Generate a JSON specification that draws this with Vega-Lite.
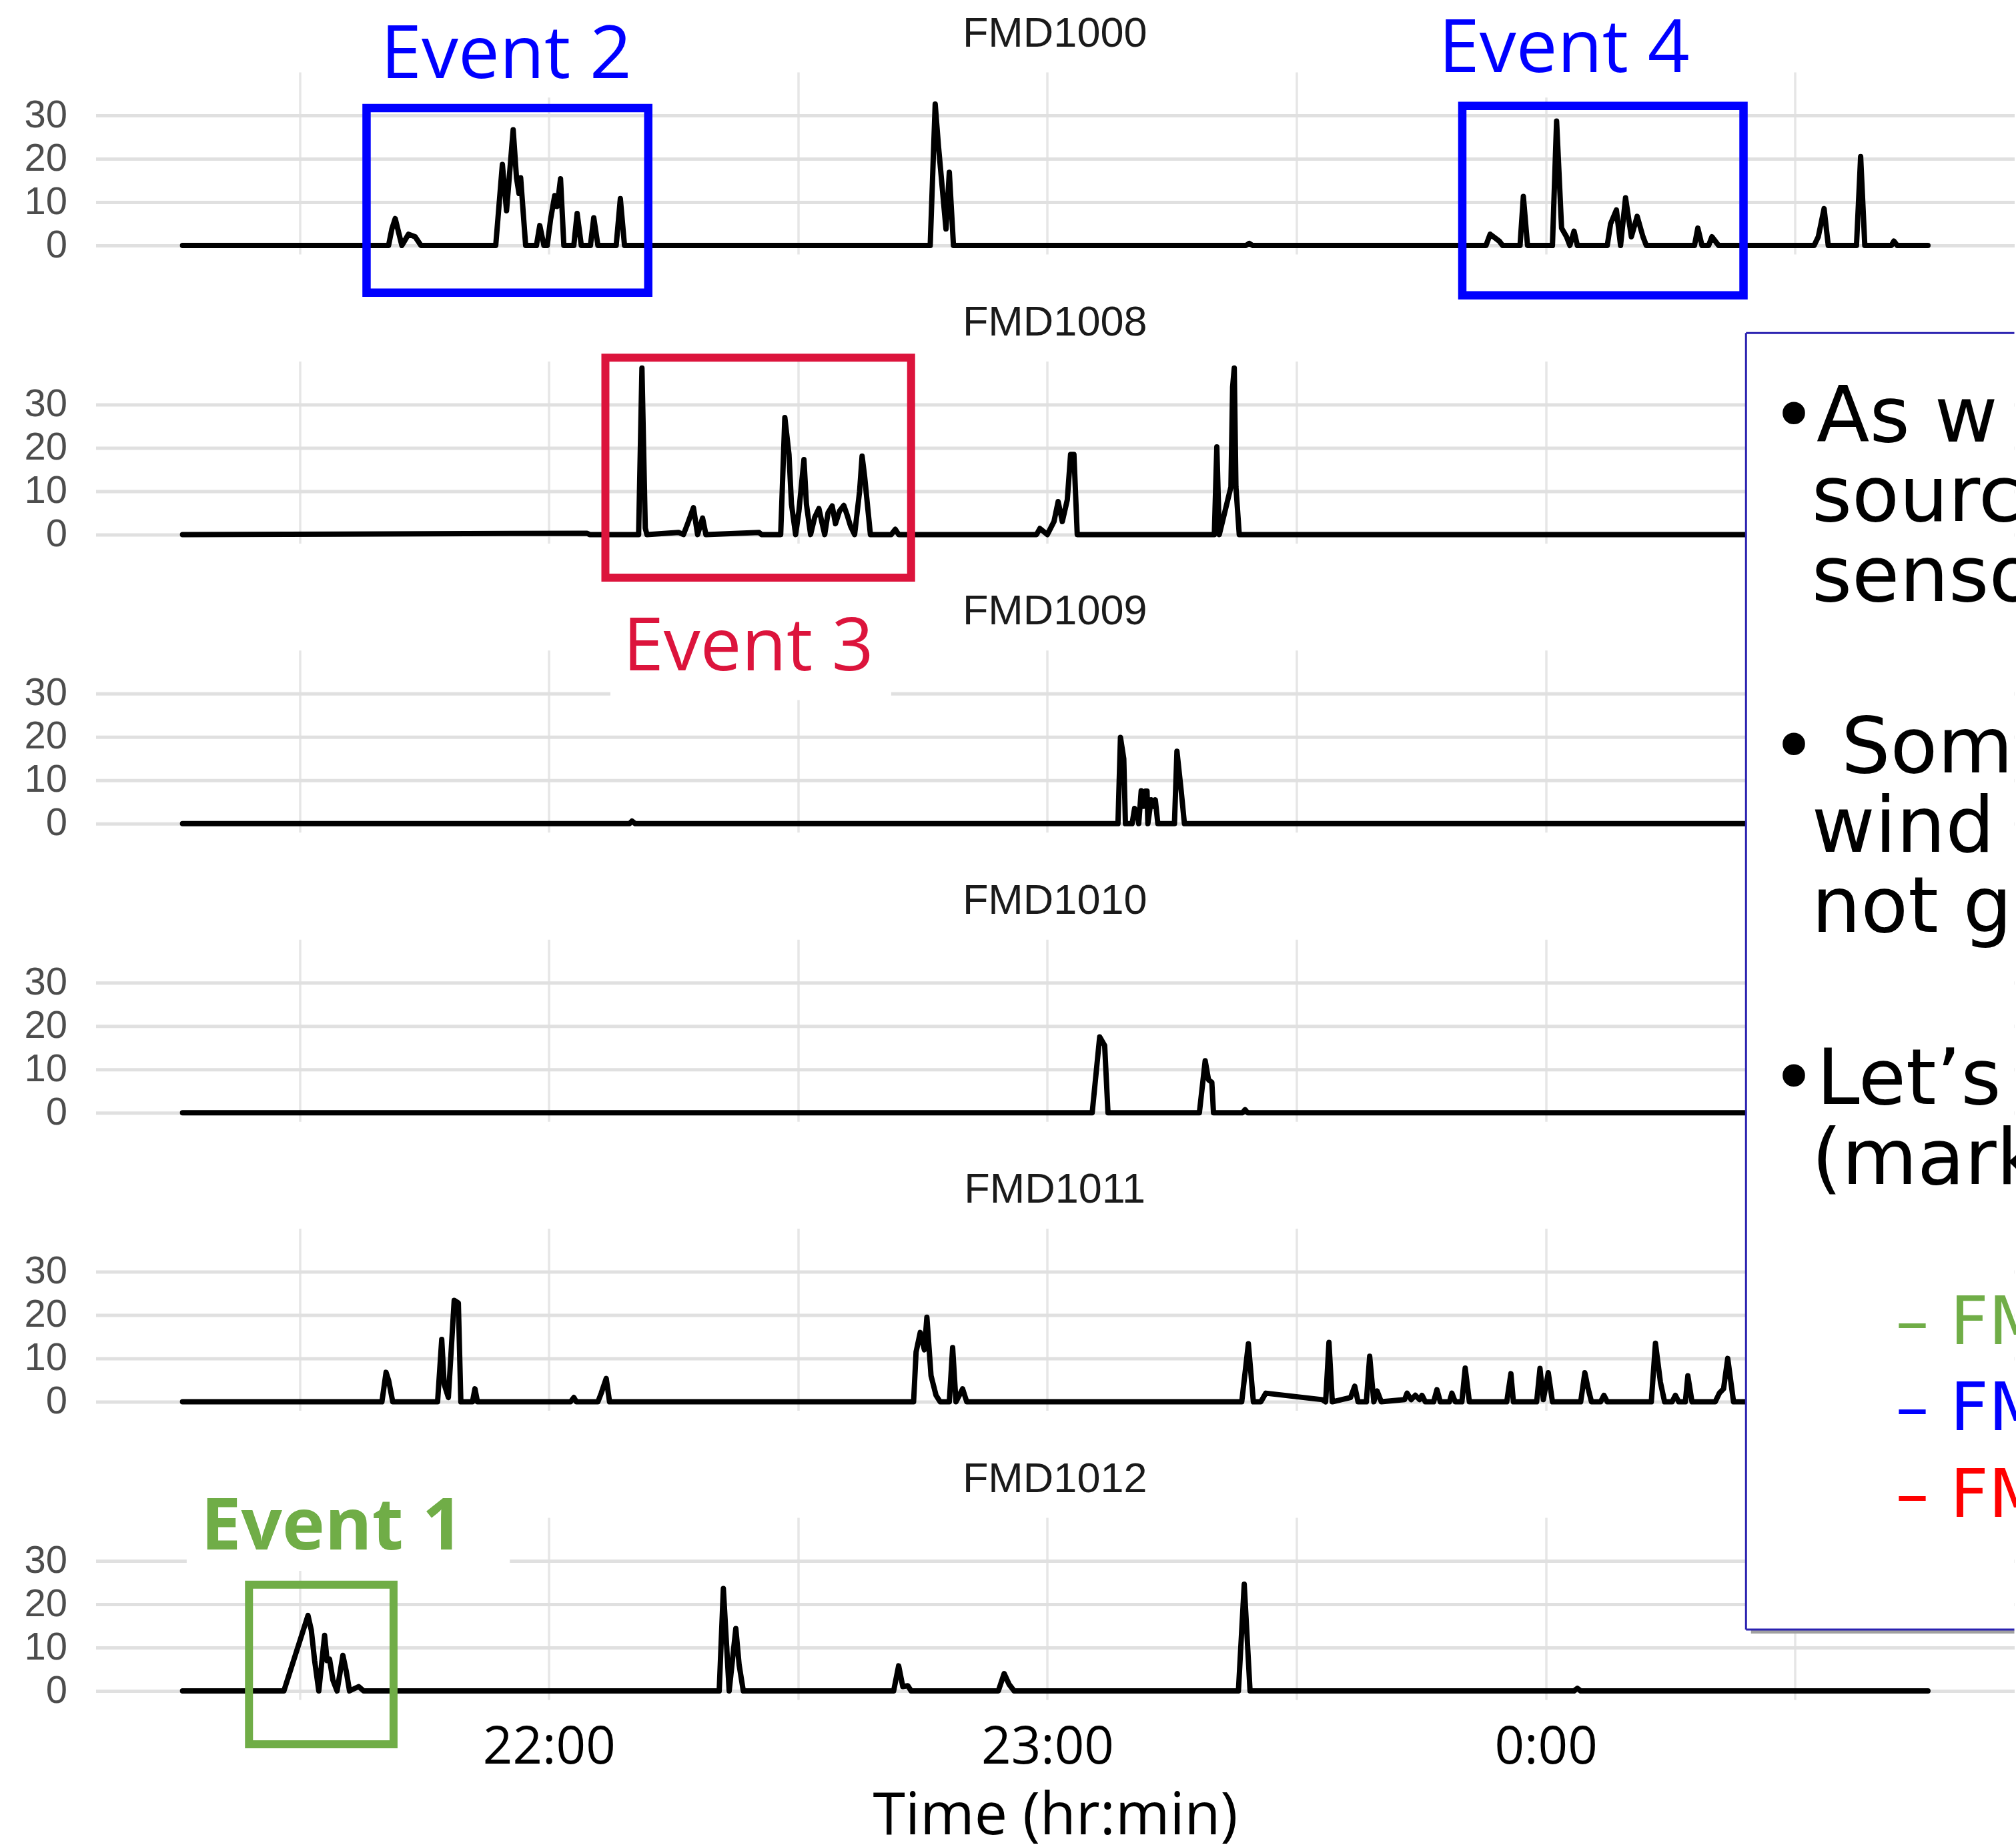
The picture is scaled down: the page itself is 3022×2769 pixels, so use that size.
{
  "$schema": "https://vega.github.io/schema/vega-lite/v6.json",
  "background": "white",
  "padding": {"left": 35.5, "top": 19, "right": 0, "bottom": 0},
  "bounds": "flush",
  "spacing": 160.4,
  "config": {
    "view": {"stroke": null},
    "axis": {"domain": false, "ticks": false, "grid": true, "gridColor": "#e0e0e0", "gridWidth": 5, "labelFont": "Liberation Sans", "labelFontSize": 58, "labelColor": "#4d4d4d", "labelPadding": 43},
    "axisX": {"gridColor": "#e6e6e6", "gridWidth": 3.5}
  },
  "datasets": {
    "series": [
      {"sensor":"FMD1000","t":15.9,"v":0},{"sensor":"FMD1000","t":40.7,"v":0},{"sensor":"FMD1000","t":41.1,"v":3.8},{"sensor":"FMD1000","t":41.5,"v":6.2},{"sensor":"FMD1000","t":42.3,"v":0},{"sensor":"FMD1000","t":43.1,"v":2.6},{"sensor":"FMD1000","t":43.9,"v":2},{"sensor":"FMD1000","t":44.6,"v":0},{"sensor":"FMD1000","t":53.6,"v":0},{"sensor":"FMD1000","t":54.4,"v":18.7},{"sensor":"FMD1000","t":54.9,"v":8},{"sensor":"FMD1000","t":55.7,"v":26.7},{"sensor":"FMD1000","t":56.1,"v":15.6},{"sensor":"FMD1000","t":56.4,"v":12},{"sensor":"FMD1000","t":56.6,"v":15.6},{"sensor":"FMD1000","t":57.2,"v":0},{"sensor":"FMD1000","t":58.5,"v":0},{"sensor":"FMD1000","t":58.9,"v":4.6},{"sensor":"FMD1000","t":59.4,"v":0},{"sensor":"FMD1000","t":59.8,"v":0},{"sensor":"FMD1000","t":60.2,"v":6},{"sensor":"FMD1000","t":60.7,"v":11.5},{"sensor":"FMD1000","t":61.0,"v":9},{"sensor":"FMD1000","t":61.4,"v":15.4},{"sensor":"FMD1000","t":61.8,"v":0},{"sensor":"FMD1000","t":63.0,"v":0},{"sensor":"FMD1000","t":63.4,"v":7.4},{"sensor":"FMD1000","t":63.9,"v":0},{"sensor":"FMD1000","t":65.0,"v":0},{"sensor":"FMD1000","t":65.4,"v":6.4},{"sensor":"FMD1000","t":65.9,"v":0},{"sensor":"FMD1000","t":68.1,"v":0},{"sensor":"FMD1000","t":68.6,"v":10.8},{"sensor":"FMD1000","t":69.1,"v":0},{"sensor":"FMD1000","t":105.9,"v":0},{"sensor":"FMD1000","t":106.5,"v":32.6},{"sensor":"FMD1000","t":106.9,"v":22.8},{"sensor":"FMD1000","t":107.8,"v":3.8},{"sensor":"FMD1000","t":108.2,"v":16.9},{"sensor":"FMD1000","t":108.7,"v":0},{"sensor":"FMD1000","t":143.9,"v":0},{"sensor":"FMD1000","t":144.3,"v":0.5},{"sensor":"FMD1000","t":144.7,"v":0},{"sensor":"FMD1000","t":172.8,"v":0},{"sensor":"FMD1000","t":173.3,"v":2.6},{"sensor":"FMD1000","t":174.4,"v":1},{"sensor":"FMD1000","t":174.8,"v":0},{"sensor":"FMD1000","t":176.9,"v":0},{"sensor":"FMD1000","t":177.3,"v":11.3},{"sensor":"FMD1000","t":177.8,"v":0},{"sensor":"FMD1000","t":180.8,"v":0},{"sensor":"FMD1000","t":181.3,"v":28.7},{"sensor":"FMD1000","t":181.9,"v":4},{"sensor":"FMD1000","t":182.5,"v":2},{"sensor":"FMD1000","t":182.9,"v":0},{"sensor":"FMD1000","t":183.4,"v":3.3},{"sensor":"FMD1000","t":183.8,"v":0},{"sensor":"FMD1000","t":187.4,"v":0},{"sensor":"FMD1000","t":187.8,"v":5},{"sensor":"FMD1000","t":188.5,"v":8.2},{"sensor":"FMD1000","t":189.0,"v":0},{"sensor":"FMD1000","t":189.6,"v":11},{"sensor":"FMD1000","t":190.3,"v":2},{"sensor":"FMD1000","t":191.0,"v":6.7},{"sensor":"FMD1000","t":191.7,"v":2},{"sensor":"FMD1000","t":192.1,"v":0},{"sensor":"FMD1000","t":197.9,"v":0},{"sensor":"FMD1000","t":198.3,"v":4},{"sensor":"FMD1000","t":198.8,"v":0},{"sensor":"FMD1000","t":199.6,"v":0},{"sensor":"FMD1000","t":200.0,"v":2},{"sensor":"FMD1000","t":200.8,"v":0},{"sensor":"FMD1000","t":212.3,"v":0},{"sensor":"FMD1000","t":212.8,"v":2},{"sensor":"FMD1000","t":213.5,"v":8.5},{"sensor":"FMD1000","t":214.0,"v":0},{"sensor":"FMD1000","t":217.4,"v":0},{"sensor":"FMD1000","t":217.9,"v":20.5},{"sensor":"FMD1000","t":218.4,"v":0},{"sensor":"FMD1000","t":221.6,"v":0},{"sensor":"FMD1000","t":221.9,"v":1},{"sensor":"FMD1000","t":222.3,"v":0},{"sensor":"FMD1000","t":226.0,"v":0},

      {"sensor":"FMD1008","t":15.9,"v":0},{"sensor":"FMD1008","t":64.6,"v":0.3},{"sensor":"FMD1008","t":64.9,"v":0},{"sensor":"FMD1008","t":70.8,"v":0},{"sensor":"FMD1008","t":71.2,"v":38.4},{"sensor":"FMD1008","t":71.6,"v":1.5},{"sensor":"FMD1008","t":71.8,"v":0},{"sensor":"FMD1008","t":75.6,"v":0.5},{"sensor":"FMD1008","t":76.2,"v":0},{"sensor":"FMD1008","t":76.7,"v":2.5},{"sensor":"FMD1008","t":77.4,"v":6.2},{"sensor":"FMD1008","t":77.9,"v":0},{"sensor":"FMD1008","t":78.5,"v":3.8},{"sensor":"FMD1008","t":78.9,"v":0},{"sensor":"FMD1008","t":85.3,"v":0.5},{"sensor":"FMD1008","t":85.6,"v":0},{"sensor":"FMD1008","t":87.9,"v":0},{"sensor":"FMD1008","t":88.4,"v":27},{"sensor":"FMD1008","t":88.9,"v":18.5},{"sensor":"FMD1008","t":89.2,"v":7},{"sensor":"FMD1008","t":89.7,"v":0},{"sensor":"FMD1008","t":90.1,"v":5.5},{"sensor":"FMD1008","t":90.7,"v":17.3},{"sensor":"FMD1008","t":91.0,"v":7},{"sensor":"FMD1008","t":91.5,"v":0},{"sensor":"FMD1008","t":92.0,"v":4},{"sensor":"FMD1008","t":92.5,"v":6},{"sensor":"FMD1008","t":92.9,"v":2.5},{"sensor":"FMD1008","t":93.2,"v":0},{"sensor":"FMD1008","t":93.6,"v":5},{"sensor":"FMD1008","t":94.1,"v":6.6},{"sensor":"FMD1008","t":94.5,"v":2.5},{"sensor":"FMD1008","t":95.0,"v":5.5},{"sensor":"FMD1008","t":95.5,"v":6.7},{"sensor":"FMD1008","t":95.9,"v":4.5},{"sensor":"FMD1008","t":96.3,"v":2},{"sensor":"FMD1008","t":96.8,"v":0},{"sensor":"FMD1008","t":97.4,"v":10},{"sensor":"FMD1008","t":97.7,"v":18.1},{"sensor":"FMD1008","t":98.0,"v":13.5},{"sensor":"FMD1008","t":98.7,"v":0},{"sensor":"FMD1008","t":101.2,"v":0},{"sensor":"FMD1008","t":101.7,"v":1.2},{"sensor":"FMD1008","t":102.1,"v":0},{"sensor":"FMD1008","t":118.7,"v":0},{"sensor":"FMD1008","t":119.1,"v":1.4},{"sensor":"FMD1008","t":120.0,"v":0},{"sensor":"FMD1008","t":120.8,"v":3},{"sensor":"FMD1008","t":121.3,"v":7.6},{"sensor":"FMD1008","t":121.8,"v":3},{"sensor":"FMD1008","t":122.4,"v":8},{"sensor":"FMD1008","t":122.8,"v":18.5},{"sensor":"FMD1008","t":123.2,"v":18.5},{"sensor":"FMD1008","t":123.6,"v":0},{"sensor":"FMD1008","t":140.1,"v":0},{"sensor":"FMD1008","t":140.4,"v":20.2},{"sensor":"FMD1008","t":140.7,"v":0},{"sensor":"FMD1008","t":142.1,"v":11},{"sensor":"FMD1008","t":142.3,"v":34},{"sensor":"FMD1008","t":142.5,"v":38.4},{"sensor":"FMD1008","t":142.7,"v":11},{"sensor":"FMD1008","t":143.1,"v":0},{"sensor":"FMD1008","t":226.0,"v":0},

      {"sensor":"FMD1009","t":15.9,"v":0},{"sensor":"FMD1009","t":69.7,"v":0},{"sensor":"FMD1009","t":70.0,"v":0.6},{"sensor":"FMD1009","t":70.4,"v":0},{"sensor":"FMD1009","t":128.5,"v":0},{"sensor":"FMD1009","t":128.8,"v":19.9},{"sensor":"FMD1009","t":129.2,"v":15},{"sensor":"FMD1009","t":129.4,"v":0},{"sensor":"FMD1009","t":130.2,"v":0},{"sensor":"FMD1009","t":130.5,"v":3.5},{"sensor":"FMD1009","t":130.8,"v":2.5},{"sensor":"FMD1009","t":131.0,"v":0},{"sensor":"FMD1009","t":131.3,"v":7.6},{"sensor":"FMD1009","t":131.6,"v":4},{"sensor":"FMD1009","t":131.8,"v":7.5},{"sensor":"FMD1009","t":132.0,"v":7.5},{"sensor":"FMD1009","t":132.1,"v":0},{"sensor":"FMD1009","t":132.5,"v":5.5},{"sensor":"FMD1009","t":132.8,"v":4},{"sensor":"FMD1009","t":133.0,"v":5.5},{"sensor":"FMD1009","t":133.3,"v":0},{"sensor":"FMD1009","t":135.3,"v":0},{"sensor":"FMD1009","t":135.6,"v":16.7},{"sensor":"FMD1009","t":136.1,"v":7.8},{"sensor":"FMD1009","t":136.5,"v":0},{"sensor":"FMD1009","t":226.0,"v":0},

      {"sensor":"FMD1010","t":15.9,"v":0},{"sensor":"FMD1010","t":125.4,"v":0},{"sensor":"FMD1010","t":126.3,"v":17.5},{"sensor":"FMD1010","t":126.9,"v":15.5},{"sensor":"FMD1010","t":127.3,"v":0},{"sensor":"FMD1010","t":138.3,"v":0},{"sensor":"FMD1010","t":139.0,"v":12},{"sensor":"FMD1010","t":139.4,"v":7.6},{"sensor":"FMD1010","t":139.8,"v":7},{"sensor":"FMD1010","t":140.0,"v":0},{"sensor":"FMD1010","t":143.5,"v":0},{"sensor":"FMD1010","t":143.8,"v":0.7},{"sensor":"FMD1010","t":144.1,"v":0},{"sensor":"FMD1010","t":226.0,"v":0},

      {"sensor":"FMD1011","t":15.9,"v":0},{"sensor":"FMD1011","t":39.9,"v":0},{"sensor":"FMD1011","t":40.4,"v":6.8},{"sensor":"FMD1011","t":40.7,"v":5},{"sensor":"FMD1011","t":41.2,"v":0},{"sensor":"FMD1011","t":46.6,"v":0},{"sensor":"FMD1011","t":47.1,"v":14.4},{"sensor":"FMD1011","t":47.4,"v":4},{"sensor":"FMD1011","t":47.9,"v":1},{"sensor":"FMD1011","t":48.6,"v":23.4},{"sensor":"FMD1011","t":49.1,"v":22.8},{"sensor":"FMD1011","t":49.4,"v":0},{"sensor":"FMD1011","t":50.8,"v":0},{"sensor":"FMD1011","t":51.1,"v":3},{"sensor":"FMD1011","t":51.4,"v":0},{"sensor":"FMD1011","t":62.6,"v":0},{"sensor":"FMD1011","t":63.0,"v":1},{"sensor":"FMD1011","t":63.3,"v":0},{"sensor":"FMD1011","t":65.9,"v":0},{"sensor":"FMD1011","t":66.3,"v":2},{"sensor":"FMD1011","t":66.9,"v":5.4},{"sensor":"FMD1011","t":67.3,"v":0},{"sensor":"FMD1011","t":103.9,"v":0},{"sensor":"FMD1011","t":104.2,"v":11.5},{"sensor":"FMD1011","t":104.7,"v":16},{"sensor":"FMD1011","t":105.2,"v":12},{"sensor":"FMD1011","t":105.5,"v":19.5},{"sensor":"FMD1011","t":106.0,"v":6},{"sensor":"FMD1011","t":106.6,"v":1.5},{"sensor":"FMD1011","t":107.1,"v":0},{"sensor":"FMD1011","t":108.2,"v":0},{"sensor":"FMD1011","t":108.6,"v":12.5},{"sensor":"FMD1011","t":109.0,"v":0},{"sensor":"FMD1011","t":109.8,"v":3},{"sensor":"FMD1011","t":110.3,"v":0},{"sensor":"FMD1011","t":143.4,"v":0},{"sensor":"FMD1011","t":144.2,"v":13.4},{"sensor":"FMD1011","t":144.8,"v":0},{"sensor":"FMD1011","t":145.7,"v":0},{"sensor":"FMD1011","t":146.3,"v":2},{"sensor":"FMD1011","t":153.1,"v":0.5},{"sensor":"FMD1011","t":153.5,"v":0},{"sensor":"FMD1011","t":153.9,"v":13.7},{"sensor":"FMD1011","t":154.3,"v":0},{"sensor":"FMD1011","t":156.5,"v":1},{"sensor":"FMD1011","t":157.0,"v":3.6},{"sensor":"FMD1011","t":157.4,"v":0},{"sensor":"FMD1011","t":158.4,"v":0},{"sensor":"FMD1011","t":158.8,"v":10.5},{"sensor":"FMD1011","t":159.3,"v":0},{"sensor":"FMD1011","t":159.7,"v":2.5},{"sensor":"FMD1011","t":160.2,"v":0},{"sensor":"FMD1011","t":163.0,"v":0.5},{"sensor":"FMD1011","t":163.3,"v":2},{"sensor":"FMD1011","t":163.8,"v":0.5},{"sensor":"FMD1011","t":164.3,"v":1.5},{"sensor":"FMD1011","t":164.8,"v":0.5},{"sensor":"FMD1011","t":165.1,"v":1.5},{"sensor":"FMD1011","t":165.5,"v":0},{"sensor":"FMD1011","t":166.5,"v":0},{"sensor":"FMD1011","t":166.9,"v":2.8},{"sensor":"FMD1011","t":167.3,"v":0},{"sensor":"FMD1011","t":168.4,"v":0},{"sensor":"FMD1011","t":168.7,"v":2},{"sensor":"FMD1011","t":169.1,"v":0},{"sensor":"FMD1011","t":169.9,"v":0},{"sensor":"FMD1011","t":170.3,"v":7.8},{"sensor":"FMD1011","t":170.8,"v":0},{"sensor":"FMD1011","t":175.3,"v":0},{"sensor":"FMD1011","t":175.8,"v":6.5},{"sensor":"FMD1011","t":176.1,"v":0},{"sensor":"FMD1011","t":178.9,"v":0},{"sensor":"FMD1011","t":179.3,"v":7.7},{"sensor":"FMD1011","t":179.7,"v":0.5},{"sensor":"FMD1011","t":180.3,"v":6.7},{"sensor":"FMD1011","t":180.8,"v":0},{"sensor":"FMD1011","t":184.2,"v":0},{"sensor":"FMD1011","t":184.7,"v":6.7},{"sensor":"FMD1011","t":185.1,"v":3},{"sensor":"FMD1011","t":185.5,"v":0},{"sensor":"FMD1011","t":186.6,"v":0},{"sensor":"FMD1011","t":187.0,"v":1.5},{"sensor":"FMD1011","t":187.4,"v":0},{"sensor":"FMD1011","t":192.7,"v":0},{"sensor":"FMD1011","t":193.2,"v":13.5},{"sensor":"FMD1011","t":193.8,"v":4.5},{"sensor":"FMD1011","t":194.3,"v":0},{"sensor":"FMD1011","t":195.2,"v":0},{"sensor":"FMD1011","t":195.6,"v":1.5},{"sensor":"FMD1011","t":196.0,"v":0},{"sensor":"FMD1011","t":196.8,"v":0},{"sensor":"FMD1011","t":197.1,"v":6},{"sensor":"FMD1011","t":197.6,"v":0},{"sensor":"FMD1011","t":200.4,"v":0},{"sensor":"FMD1011","t":200.9,"v":2},{"sensor":"FMD1011","t":201.4,"v":3},{"sensor":"FMD1011","t":201.9,"v":10},{"sensor":"FMD1011","t":202.6,"v":0},{"sensor":"FMD1011","t":226.0,"v":0},

      {"sensor":"FMD1012","t":15.9,"v":0},{"sensor":"FMD1012","t":28.1,"v":0},{"sensor":"FMD1012","t":31.0,"v":17.4},{"sensor":"FMD1012","t":31.4,"v":14},{"sensor":"FMD1012","t":31.8,"v":7},{"sensor":"FMD1012","t":32.3,"v":0},{"sensor":"FMD1012","t":33.0,"v":12.8},{"sensor":"FMD1012","t":33.3,"v":7},{"sensor":"FMD1012","t":33.6,"v":7.3},{"sensor":"FMD1012","t":34.0,"v":2.5},{"sensor":"FMD1012","t":34.5,"v":0},{"sensor":"FMD1012","t":35.2,"v":8.2},{"sensor":"FMD1012","t":35.6,"v":4.6},{"sensor":"FMD1012","t":36.0,"v":0},{"sensor":"FMD1012","t":37.1,"v":1},{"sensor":"FMD1012","t":37.7,"v":0},{"sensor":"FMD1012","t":80.5,"v":0},{"sensor":"FMD1012","t":81.0,"v":23.6},{"sensor":"FMD1012","t":81.7,"v":0},{"sensor":"FMD1012","t":82.5,"v":14.4},{"sensor":"FMD1012","t":82.9,"v":6},{"sensor":"FMD1012","t":83.4,"v":0},{"sensor":"FMD1012","t":101.5,"v":0},{"sensor":"FMD1012","t":102.1,"v":5.8},{"sensor":"FMD1012","t":102.6,"v":1},{"sensor":"FMD1012","t":103.2,"v":1.2},{"sensor":"FMD1012","t":103.6,"v":0},{"sensor":"FMD1012","t":114.1,"v":0},{"sensor":"FMD1012","t":114.8,"v":4},{"sensor":"FMD1012","t":115.4,"v":1.5},{"sensor":"FMD1012","t":116.0,"v":0},{"sensor":"FMD1012","t":143.0,"v":0},{"sensor":"FMD1012","t":143.7,"v":24.6},{"sensor":"FMD1012","t":144.4,"v":0},{"sensor":"FMD1012","t":183.4,"v":0},{"sensor":"FMD1012","t":183.8,"v":0.6},{"sensor":"FMD1012","t":184.2,"v":0},{"sensor":"FMD1012","t":226.0,"v":0}
    ],
    "titles": [
      {"sensor":"FMD1000","t":120.9,"v":45.9},{"sensor":"FMD1008","t":120.9,"v":45.9},{"sensor":"FMD1009","t":120.9,"v":45.9},
      {"sensor":"FMD1010","t":120.9,"v":45.9},{"sensor":"FMD1011","t":120.9,"v":45.9},{"sensor":"FMD1012","t":120.9,"v":45.9}
    ],
    "boxes": [
      {"sensor":"FMD1000","event":"Event 2","t1":38.05,"t2":71.96,"v1":31.7,"v2":-10.9},
      {"sensor":"FMD1000","event":"Event 4","t1":169.95,"t2":203.8,"v1":32.2,"v2":-11.5},
      {"sensor":"FMD1008","event":"Event 3","t1":66.8,"t2":103.6,"v1":40.8,"v2":-9.95},
      {"sensor":"FMD1012","event":"Event 1","t1":23.9,"t2":41.3,"v1":24.5,"v2":-12.3}
    ],
    "labels": [
      {"sensor":"FMD1000","event":"Event 2","t":54.86,"v":38.6,"t1":37.9,"t2":71.7,"v1":34.1,"v2":46},
      {"sensor":"FMD1000","event":"Event 4","t":182.2,"v":40.0,"t1":165.2,"t2":199.2,"v1":34.1,"v2":46},
      {"sensor":"FMD1009","event":"Event 3","t":84.0,"v":35.3,"t1":67.4,"t2":101.2,"v1":28.5,"v2":51},
      {"sensor":"FMD1012","event":"Event 1","t":33.9,"v":32.6,"t1":16.4,"t2":55.3,"v1":27.7,"v2":48}
    ],
    "notebox": [
      {"t1":204.1,"t2":236.4,"v1":14.15,"v2":313.2}
    ],
    "noteedges": [
      {"edge":"left","t1":204.1,"t2":204.1,"v1":14.15,"v2":313.2},
      {"edge":"top","t1":204.1,"t2":236.4,"v1":313.2,"v2":313.2},
      {"edge":"bottom","t1":204.1,"t2":236.4,"v1":14.15,"v2":14.15}
    ],
    "noteshadow": [
      {"t1":204.7,"t2":236.4,"v1":13.6,"v2":13.6}
    ],
    "notes": [
      {"level":"bullet","t":207.1,"v":288.2,"text":"•As w"},
      {"level":"cont","t":212.0,"v":269.8,"text":"sourc"},
      {"level":"cont","t":212.0,"v":251.4,"text":"senso"},
      {"level":"bullet","t":207.1,"v":211.8,"text":"• Som"},
      {"level":"cont","t":212.0,"v":193.5,"text":"wind"},
      {"level":"cont","t":212.0,"v":175.1,"text":"not g"},
      {"level":"bullet","t":207.1,"v":135.4,"text":"•Let’s"},
      {"level":"cont","t":212.0,"v":117.0,"text":"(mark"},
      {"level":"sub","ref":"Event 1","t":222.1,"v":80.0,"text":"– FM"},
      {"level":"sub","ref":"Event 2, 4","t":222.1,"v":60.1,"text":"– FM"},
      {"level":"sub","ref":"Event 3","t":222.1,"v":40.1,"text":"– FM"}
    ]
  },
  "vconcat": [
    {
      "width": 2876, "height": 273,
      "layer": [
        {"data": {"name": "series"}, "transform": [{"filter": "datum.sensor === 'FMD1000'"}],
         "mark": {"type": "line", "color": "#000000", "strokeWidth": 8, "strokeJoin": "round", "strokeCap": "round"},
         "encoding": {
           "x": {"field": "t", "type": "quantitative", "scale": {"domain": [5.45, 236.4], "nice": false, "zero": false}, "axis": {"values": [30,60,90,120,150,180,210], "labels": false, "title": null}},
           "y": {"field": "v", "type": "quantitative", "scale": {"domain": [-2, 40], "nice": false, "zero": false}, "axis": {"values": [0,5,10,15,20,25,30,35], "labelExpr": "datum.value % 10 == 0 ? datum.label : ''", "title": null}}}},
        {"data": {"name": "titles"}, "transform": [{"filter": "datum.sensor === 'FMD1000'"}],
         "mark": {"type": "text", "font": "Liberation Sans", "fontSize": 63, "color": "#1a1a1a", "align": "center", "baseline": "alphabetic"},
         "encoding": {"x": {"field": "t", "type": "quantitative", "title": null}, "y": {"field": "v", "type": "quantitative", "title": null}, "text": {"field": "sensor"}}},
        {"data": {"name": "labels"}, "transform": [{"filter": "datum.sensor === 'FMD1000'"}],
         "mark": {"type": "rect", "color": "#ffffff"},
         "encoding": {"x": {"field": "t1", "type": "quantitative", "title": null}, "x2": {"field": "t2"}, "y": {"field": "v1", "type": "quantitative", "title": null}, "y2": {"field": "v2"}}},
        {"data": {"name": "boxes"}, "transform": [{"filter": "datum.sensor === 'FMD1000'"}],
         "mark": {"type": "rect", "filled": false, "color": "#0000FF", "strokeWidth": 12.5},
         "encoding": {"x": {"field": "t1", "type": "quantitative", "title": null}, "x2": {"field": "t2"}, "y": {"field": "v1", "type": "quantitative", "title": null}, "y2": {"field": "v2"}}},
        {"data": {"name": "labels"}, "transform": [{"filter": "datum.sensor === 'FMD1000'"}],
         "mark": {"type": "text", "font": "Open Sans", "fontSize": 110, "color": "#0000FF", "align": "center", "baseline": "alphabetic"},
         "encoding": {"x": {"field": "t", "type": "quantitative", "title": null}, "y": {"field": "v", "type": "quantitative", "title": null}, "text": {"field": "event"}}}
      ]
    },
    {
      "width": 2876, "height": 273,
      "layer": [
        {"data": {"name": "series"}, "transform": [{"filter": "datum.sensor === 'FMD1008'"}],
         "mark": {"type": "line", "color": "#000000", "strokeWidth": 8, "strokeJoin": "round", "strokeCap": "round"},
         "encoding": {
           "x": {"field": "t", "type": "quantitative", "scale": {"domain": [5.45, 236.4], "nice": false, "zero": false}, "axis": {"values": [30,60,90,120,150,180,210], "labels": false, "title": null}},
           "y": {"field": "v", "type": "quantitative", "scale": {"domain": [-2, 40], "nice": false, "zero": false}, "axis": {"values": [0,5,10,15,20,25,30,35], "labelExpr": "datum.value % 10 == 0 ? datum.label : ''", "title": null}}}},
        {"data": {"name": "titles"}, "transform": [{"filter": "datum.sensor === 'FMD1008'"}],
         "mark": {"type": "text", "font": "Liberation Sans", "fontSize": 63, "color": "#1a1a1a", "align": "center", "baseline": "alphabetic"},
         "encoding": {"x": {"field": "t", "type": "quantitative", "title": null}, "y": {"field": "v", "type": "quantitative", "title": null}, "text": {"field": "sensor"}}},
        {"data": {"name": "boxes"}, "transform": [{"filter": "datum.sensor === 'FMD1008'"}],
         "mark": {"type": "rect", "filled": false, "color": "#DC143C", "strokeWidth": 12},
         "encoding": {"x": {"field": "t1", "type": "quantitative", "title": null}, "x2": {"field": "t2"}, "y": {"field": "v1", "type": "quantitative", "title": null}, "y2": {"field": "v2"}}}
      ]
    },
    {
      "width": 2876, "height": 273,
      "layer": [
        {"data": {"name": "series"}, "transform": [{"filter": "datum.sensor === 'FMD1009'"}],
         "mark": {"type": "line", "color": "#000000", "strokeWidth": 8, "strokeJoin": "round", "strokeCap": "round"},
         "encoding": {
           "x": {"field": "t", "type": "quantitative", "scale": {"domain": [5.45, 236.4], "nice": false, "zero": false}, "axis": {"values": [30,60,90,120,150,180,210], "labels": false, "title": null}},
           "y": {"field": "v", "type": "quantitative", "scale": {"domain": [-2, 40], "nice": false, "zero": false}, "axis": {"values": [0,5,10,15,20,25,30,35], "labelExpr": "datum.value % 10 == 0 ? datum.label : ''", "title": null}}}},
        {"data": {"name": "titles"}, "transform": [{"filter": "datum.sensor === 'FMD1009'"}],
         "mark": {"type": "text", "font": "Liberation Sans", "fontSize": 63, "color": "#1a1a1a", "align": "center", "baseline": "alphabetic"},
         "encoding": {"x": {"field": "t", "type": "quantitative", "title": null}, "y": {"field": "v", "type": "quantitative", "title": null}, "text": {"field": "sensor"}}},
        {"data": {"name": "labels"}, "transform": [{"filter": "datum.sensor === 'FMD1009'"}],
         "mark": {"type": "rect", "color": "#ffffff"},
         "encoding": {"x": {"field": "t1", "type": "quantitative", "title": null}, "x2": {"field": "t2"}, "y": {"field": "v1", "type": "quantitative", "title": null}, "y2": {"field": "v2"}}},
        {"data": {"name": "labels"}, "transform": [{"filter": "datum.sensor === 'FMD1009'"}],
         "mark": {"type": "text", "font": "Open Sans", "fontSize": 110, "color": "#DC143C", "align": "center", "baseline": "alphabetic"},
         "encoding": {"x": {"field": "t", "type": "quantitative", "title": null}, "y": {"field": "v", "type": "quantitative", "title": null}, "text": {"field": "event"}}}
      ]
    },
    {
      "width": 2876, "height": 273,
      "layer": [
        {"data": {"name": "series"}, "transform": [{"filter": "datum.sensor === 'FMD1010'"}],
         "mark": {"type": "line", "color": "#000000", "strokeWidth": 8, "strokeJoin": "round", "strokeCap": "round"},
         "encoding": {
           "x": {"field": "t", "type": "quantitative", "scale": {"domain": [5.45, 236.4], "nice": false, "zero": false}, "axis": {"values": [30,60,90,120,150,180,210], "labels": false, "title": null}},
           "y": {"field": "v", "type": "quantitative", "scale": {"domain": [-2, 40], "nice": false, "zero": false}, "axis": {"values": [0,5,10,15,20,25,30,35], "labelExpr": "datum.value % 10 == 0 ? datum.label : ''", "title": null}}}},
        {"data": {"name": "titles"}, "transform": [{"filter": "datum.sensor === 'FMD1010'"}],
         "mark": {"type": "text", "font": "Liberation Sans", "fontSize": 63, "color": "#1a1a1a", "align": "center", "baseline": "alphabetic"},
         "encoding": {"x": {"field": "t", "type": "quantitative", "title": null}, "y": {"field": "v", "type": "quantitative", "title": null}, "text": {"field": "sensor"}}}
      ]
    },
    {
      "width": 2876, "height": 273,
      "layer": [
        {"data": {"name": "series"}, "transform": [{"filter": "datum.sensor === 'FMD1011'"}],
         "mark": {"type": "line", "color": "#000000", "strokeWidth": 8, "strokeJoin": "round", "strokeCap": "round"},
         "encoding": {
           "x": {"field": "t", "type": "quantitative", "scale": {"domain": [5.45, 236.4], "nice": false, "zero": false}, "axis": {"values": [30,60,90,120,150,180,210], "labels": false, "title": null}},
           "y": {"field": "v", "type": "quantitative", "scale": {"domain": [-2, 40], "nice": false, "zero": false}, "axis": {"values": [0,5,10,15,20,25,30,35], "labelExpr": "datum.value % 10 == 0 ? datum.label : ''", "title": null}}}},
        {"data": {"name": "titles"}, "transform": [{"filter": "datum.sensor === 'FMD1011'"}],
         "mark": {"type": "text", "font": "Liberation Sans", "fontSize": 63, "color": "#1a1a1a", "align": "center", "baseline": "alphabetic"},
         "encoding": {"x": {"field": "t", "type": "quantitative", "title": null}, "y": {"field": "v", "type": "quantitative", "title": null}, "text": {"field": "sensor"}}}
      ]
    },
    {
      "width": 2876, "height": 273,
      "layer": [
        {"data": {"name": "series"}, "transform": [{"filter": "datum.sensor === 'FMD1012'"}],
         "mark": {"type": "line", "color": "#000000", "strokeWidth": 8, "strokeJoin": "round", "strokeCap": "round"},
         "encoding": {
           "x": {"field": "t", "type": "quantitative", "title": "Time (hr:min)", "scale": {"domain": [5.45, 236.4], "nice": false, "zero": false},
                 "axis": {"values": [30,60,90,120,150,180,210], "labelExpr": "datum.value == 60 ? '22:00' : datum.value == 120 ? '23:00' : datum.value == 180 ? '0:00' : ''", "labelFont": "Open Sans", "labelFontSize": 78, "labelColor": "#000000", "labelPadding": 33, "labelLimit": 0, "labelOverlap": false, "labelFlush": false, "title": "Time (hr:min)", "titleFont": "Open Sans", "titleFontSize": 88, "titleFontWeight": "normal", "titleColor": "#000000", "titlePadding": 20}},
           "y": {"field": "v", "type": "quantitative", "scale": {"domain": [-2, 40], "nice": false, "zero": false}, "axis": {"values": [0,5,10,15,20,25,30,35], "labelExpr": "datum.value % 10 == 0 ? datum.label : ''", "title": null}}}},
        {"data": {"name": "titles"}, "transform": [{"filter": "datum.sensor === 'FMD1012'"}],
         "mark": {"type": "text", "font": "Liberation Sans", "fontSize": 63, "color": "#1a1a1a", "align": "center", "baseline": "alphabetic"},
         "encoding": {"x": {"field": "t", "type": "quantitative", "title": "Time (hr:min)"}, "y": {"field": "v", "type": "quantitative", "title": null}, "text": {"field": "sensor"}}},
        {"data": {"name": "labels"}, "transform": [{"filter": "datum.sensor === 'FMD1012'"}],
         "mark": {"type": "rect", "color": "#ffffff"},
         "encoding": {"x": {"field": "t1", "type": "quantitative", "title": "Time (hr:min)"}, "x2": {"field": "t2"}, "y": {"field": "v1", "type": "quantitative", "title": null}, "y2": {"field": "v2"}}},
        {"data": {"name": "boxes"}, "transform": [{"filter": "datum.sensor === 'FMD1012'"}],
         "mark": {"type": "rect", "filled": false, "color": "#70AD47", "strokeWidth": 12},
         "encoding": {"x": {"field": "t1", "type": "quantitative", "title": "Time (hr:min)"}, "x2": {"field": "t2"}, "y": {"field": "v1", "type": "quantitative", "title": null}, "y2": {"field": "v2"}}},
        {"data": {"name": "labels"}, "transform": [{"filter": "datum.sensor === 'FMD1012'"}],
         "mark": {"type": "text", "font": "Open Sans", "fontSize": 108, "fontWeight": "bold", "color": "#70AD47", "align": "center", "baseline": "alphabetic"},
         "encoding": {"x": {"field": "t", "type": "quantitative", "title": "Time (hr:min)"}, "y": {"field": "v", "type": "quantitative", "title": null}, "text": {"field": "event"}}},
        {"data": {"name": "notebox"},
         "mark": {"type": "rect", "color": "#ffffff"},
         "encoding": {"x": {"field": "t1", "type": "quantitative", "title": "Time (hr:min)"}, "x2": {"field": "t2"}, "y": {"field": "v1", "type": "quantitative", "title": null}, "y2": {"field": "v2"}}},
        {"data": {"name": "noteshadow"},
         "mark": {"type": "rule", "color": "#a0a0a0", "strokeWidth": 5},
         "encoding": {"x": {"field": "t1", "type": "quantitative", "title": "Time (hr:min)"}, "x2": {"field": "t2"}, "y": {"field": "v1", "type": "quantitative", "title": null}, "y2": {"field": "v2"}}},
        {"data": {"name": "noteedges"},
         "mark": {"type": "rule", "color": "#2b22b0", "strokeWidth": 3},
         "encoding": {"x": {"field": "t1", "type": "quantitative", "title": "Time (hr:min)"}, "x2": {"field": "t2"}, "y": {"field": "v1", "type": "quantitative", "title": null}, "y2": {"field": "v2"}}},
        {"data": {"name": "notes"}, "transform": [{"filter": "datum.level === 'bullet' || datum.level === 'cont'"}],
         "mark": {"type": "text", "font": "DejaVu Sans", "fontSize": 116, "color": "#000000", "align": "left", "baseline": "alphabetic"},
         "encoding": {"x": {"field": "t", "type": "quantitative", "title": "Time (hr:min)"}, "y": {"field": "v", "type": "quantitative", "title": null}, "text": {"field": "text"}}},
        {"data": {"name": "notes"}, "transform": [{"filter": "datum.level === 'sub'"}],
         "mark": {"type": "text", "font": "DejaVu Sans", "fontSize": 100, "align": "left", "baseline": "alphabetic"},
         "encoding": {"x": {"field": "t", "type": "quantitative", "title": "Time (hr:min)"}, "y": {"field": "v", "type": "quantitative", "title": null}, "text": {"field": "text"},
                      "color": {"field": "ref", "type": "nominal", "scale": {"domain": ["Event 1", "Event 2, 4", "Event 3"], "range": ["#70AD47", "#0000FF", "#FF0000"]}, "legend": null}}}
      ]
    }
  ]
}
